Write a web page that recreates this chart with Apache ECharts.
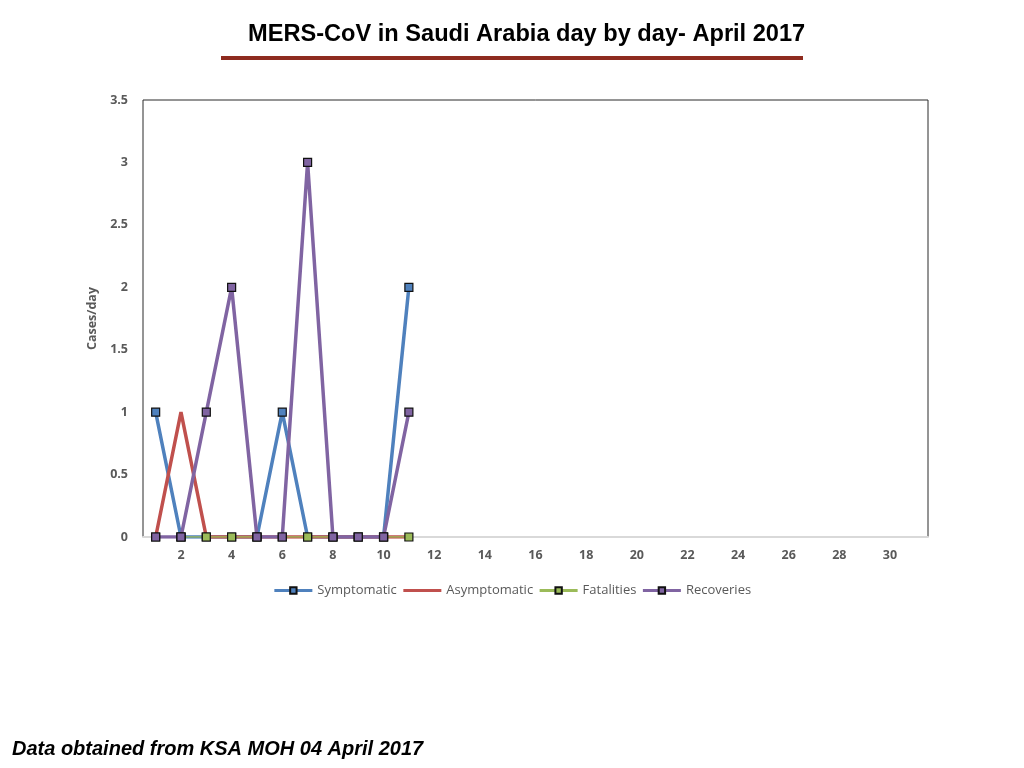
<!DOCTYPE html>
<html lang="en">
<head>
    <meta charset="UTF-8"/>
    <script src="https://cdn.jsdelivr.net/npm/echarts@6/dist/echarts.min.js"></script>
    <title>MERS-CoV April 2017</title>
    <style>
        html, body { margin:0; padding:0; background:#fff; }
    </style>
</head>
<body>
<div id="main" style="width:1024px; height:768px;"></div>
<script type="text/javascript">
    // days of April (1..31 on the axis)
    var days = [];
    for (var d = 1; d <= 31; d++) days.push(String(d));

    // values, days 1..11 (rest not reported yet)
    var symptomatic  = [1, 0, 0, 0, 0, 1, 0, 0, 0, 0, 2];
    var asymptomatic = [0, 1, 0, 0, 0, 0, 0, 0, 0, 0, 0];
    var fatalities   = [0, 0, 0, 0, 0, 0, 0, 0, 0, 0, 0];
    var recoveries   = [0, 0, 1, 2, 0, 0, 3, 0, 0, 0, 1];

    function pad(arr) {
        var out = arr.slice();
        while (out.length < days.length) out.push(null);
        return out;
    }

    var myChart = echarts.init(document.getElementById('main'));

    var labelFont = { color: '#595959', fontWeight: 'bold', fontSize: 12.5, fontFamily: 'Open Sans' };

    function lineSeries(name, data, color, width, marker) {
        return {
            name: name,
            type: 'line',
            data: pad(data),
            symbol: 'rect',
            symbolSize: marker ? 8 : 0,
            showSymbol: marker,
            lineStyle: { color: color, width: width },
            itemStyle: { color: color, borderColor: '#111', borderWidth: 1.2 },
            emphasis: { disabled: true },
            animation: false
        };
    }

    var option = {
        backgroundColor: '#fff',
        title: {
            text: 'MERS-CoV in Saudi Arabia day by day- April 2017',
            left: 243,
            top: 17,
            textStyle: { fontFamily: 'Liberation Sans', fontWeight: 'bold', fontSize: 23.6, color: '#000' }
        },
        graphic: [
            {
                type: 'rect',
                shape: { x: 221, y: 56, width: 582, height: 4 },
                style: { fill: '#8e2b1f' }
            },
            {
                type: 'text',
                left: 12,
                top: 739,
                style: {
                    text: 'Data obtained from KSA MOH 04 April 2017',
                    font: 'italic bold 20px "Liberation Sans", Arial',
                    fill: '#000'
                }
            }
        ],
        legend: {
            bottom: 166,
            left: 'center',
            itemWidth: 38,
            itemHeight: 8,
            itemGap: 5,
            lineStyle: { width: 3 },
            textStyle: { color: '#595959', fontSize: 13, fontFamily: 'Open Sans' },
            data: [
                'Symptomatic',
                { name: 'Asymptomatic', itemStyle: { opacity: 0 } },
                'Fatalities',
                'Recoveries'
            ]
        },
        grid: {
            left: 143,
            top: 100,
            right: 96,
            bottom: 231,
            show: true,
            borderColor: '#2a2a2a',
            borderWidth: 1
        },
        xAxis: {
            type: 'category',
            data: days,
            boundaryGap: true,
            axisLine: { lineStyle: { color: '#d9d9d9', width: 2 } },
            axisTick: { show: false },
            axisLabel: Object.assign({ interval: 0, margin: 12,
                formatter: function (v) { return (+v % 2 === 0) ? v : ''; } }, labelFont),
            splitLine: { show: false }
        },
        yAxis: {
            type: 'value',
            min: 0,
            max: 3.5,
            interval: 0.5,
            name: 'Cases/day',
            nameLocation: 'middle',
            nameGap: 40,
            nameTextStyle: labelFont,
            axisLine: { show: false },
            axisTick: { show: false },
            axisLabel: Object.assign({ margin: 15 }, labelFont),
            splitLine: { show: false }
        },
        series: [
            lineSeries('Symptomatic', symptomatic, '#4f81bd', 3.5, true),
            lineSeries('Asymptomatic', asymptomatic, '#c0504d', 3.5, false),
            lineSeries('Fatalities', fatalities, '#9bbb59', 1.5, true),
            lineSeries('Recoveries', recoveries, '#8064a2', 3.5, true)
        ]
    };

    myChart.setOption(option);
</script>
</body>
</html>
